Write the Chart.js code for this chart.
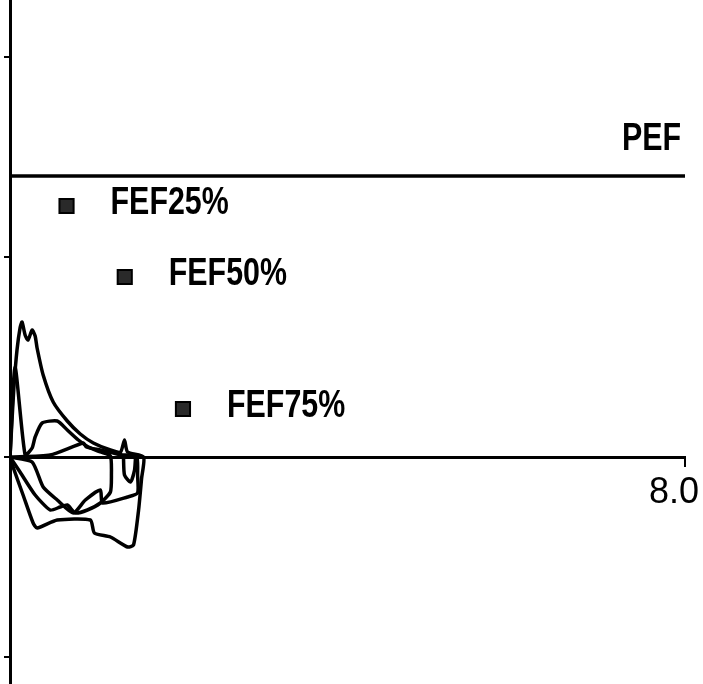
<!DOCTYPE html>
<html>
<head>
<meta charset="utf-8">
<script src="https://cdn.jsdelivr.net/npm/chart.js@4"></script>
<style>
  html, body { margin: 0; padding: 0; background: #ffffff; }
  canvas { display: block; }
</style>
</head>
<body>
<canvas id="c" width="703" height="684"></canvas>
<script>
// ---- data (volume in L on x, flow in L/s on y) ----
const volumeTickValues = [8.0];
const flowTickValues = [-2, 0, 2, 4];

const predictedLabels = ['FEF25%', 'FEF50%', 'FEF75%'];
const predictedVolume = [0.67, 1.36, 2.05];
const predictedFlow = [2.51, 1.80, 0.48];

const pefLabel = 'PEF';
const pefFlow = 2.81;
const pefVolume = [0, 8];

// trial 1 (largest loop): expiration then inspiration
const trial1Volume = [0, 0.024, 0.048, 0.083, 0.119, 0.143, 0.179, 0.214, 0.262, 0.298, 0.321, 0.393, 0.512, 0.679, 0.833, 0.988, 1.19, 1.31, 1.357, 1.393, 1.583,
  1.56, 1.524, 1.464, 1.393, 1.19, 1.0, 0.952, 0.56, 0.321, 0.274, 0.155, 0.036, 0];
const trial1Flow = [0, 0.37, 0.72, 1.07, 1.29, 1.35, 1.22, 1.17, 1.27, 1.21, 1.09, 0.82, 0.55, 0.36, 0.23, 0.14, 0.07, 0.05, 0.17, 0.05, 0,
  -0.21, -0.53, -0.88, -0.90, -0.80, -0.76, -0.63, -0.63, -0.71, -0.66, -0.38, -0.10, 0];

// trial 2
const trial2Volume = [0, 0.06, 0.179, 0.262, 0.298, 0.381, 0.56, 0.679, 0.81, 0.929, 1.071, 1.19,
  1.202, 1.19, 1.071, 0.917, 0.774, 0.679, 0.595, 0.476, 0.298, 0.119, 0];
const trial2Flow = [0, 0.9, 0.02, 0.09, 0.20, 0.34, 0.36, 0.27, 0.17, 0.10, 0.05, 0.01,
  -0.18, -0.35, -0.46, -0.53, -0.56, -0.48, -0.50, -0.53, -0.38, -0.15, 0];

// trial 3
const trial3Volume = [0, 0.476, 0.869, 0.905, 1.071, 1.333, 1.5,
  1.512, 1.512, 1.393, 1.095, 1.071, 0.893, 0.75, 0.56, 0.393, 0.262, 0];
const trial3Flow = [0, 0.02, 0.14, 0.10, 0.07, 0.02, 0.01,
  -0.18, -0.36, -0.40, -0.46, -0.33, -0.43, -0.56, -0.43, -0.30, -0.05, 0];

// trial 4 (small end lobe)
const trial4Volume = [1.345, 1.357, 1.429, 1.476, 1.488];
const trial4Flow = [0, -0.18, -0.25, -0.13, 0];

// ---- build ----
const pts = (xs, ys) => xs.map((x, i) => ({ x: x, y: ys[i] }));

const loopStyle = {
  type: 'scatter',
  showLine: true,
  borderColor: '#000000',
  borderWidth: 3.5,
  pointRadius: 0,
  tension: 0.2,
  fill: false
};

const textPlugin = {
  id: 'annotText',
  afterDatasetsDraw(chart) {
    const ctx = chart.ctx;
    const xs = chart.scales.x, ys = chart.scales.y;
    ctx.save();
    ctx.fillStyle = '#000000';
    ctx.font = 'bold 38px "Liberation Sans", Arial, sans-serif';
    ctx.textBaseline = 'middle';
    const draw = (txt, px, py, align) => {
      ctx.save();
      ctx.translate(px, py);
      ctx.scale(0.8, 1);
      ctx.textAlign = align;
      ctx.fillText(txt, 0, 0);
      ctx.restore();
    };
    predictedLabels.forEach((t, i) => {
      draw(t, xs.getPixelForValue(predictedVolume[i]) + 44, ys.getPixelForValue(predictedFlow[i]) - 2, 'left');
    });
    draw(pefLabel, xs.getPixelForValue(pefVolume[1]) - 4, ys.getPixelForValue(pefFlow) - 36, 'right');
    ctx.restore();
  }
};

new Chart(document.getElementById('c'), {
  type: 'scatter',
  data: {
    datasets: [
      Object.assign({ label: 'PEF', data: pts(pefVolume, [pefFlow, pefFlow]) }, loopStyle, { borderWidth: 3.5, tension: 0 }),
      Object.assign({ label: 'Trial 1', data: pts(trial1Volume, trial1Flow) }, loopStyle),
      Object.assign({ label: 'Trial 2', data: pts(trial2Volume, trial2Flow) }, loopStyle),
      Object.assign({ label: 'Trial 3', data: pts(trial3Volume, trial3Flow) }, loopStyle),
      Object.assign({ label: 'Trial 4', data: pts(trial4Volume, trial4Flow) }, loopStyle),
      {
        type: 'scatter',
        label: 'Predicted',
        data: pts(predictedVolume, predictedFlow),
        showLine: false,
        pointStyle: 'rect',
        pointRadius: 10,
        backgroundColor: '#2a2a2a',
        borderColor: '#000000',
        borderWidth: 2
      }
    ]
  },
  options: {
    responsive: false,
    animation: false,
    devicePixelRatio: 1,
    layout: { autoPadding: false, padding: { left: 4, top: 0, right: 18, bottom: 0 } },
    plugins: { legend: { display: false }, tooltip: { enabled: false } },
    scales: {
      x: {
        type: 'linear',
        min: 0,
        max: 8,
        position: { y: 0 },
        afterBuildTicks: (axis) => { axis.ticks = volumeTickValues.map(v => ({ value: v })); },
        afterFit: (axis) => { axis.paddingLeft = 0; axis.paddingRight = 0; },
        ticks: {
          color: '#000000',
          padding: 6,
          labelOffset: -11,
          font: { size: 36, family: '"Liberation Sans", Arial, sans-serif' },
          callback: (v) => Number(v).toFixed(1),
          maxRotation: 0
        },
        grid: { drawOnChartArea: false, drawTicks: true, tickLength: 8, color: '#000000', lineWidth: 2 },
        border: { display: true, color: '#000000', width: 3 }
      },
      y: {
        type: 'linear',
        min: -2.27,
        max: 4.57,
        afterBuildTicks: (axis) => { axis.ticks = flowTickValues.map(v => ({ value: v })); },
        ticks: { display: false },
        grid: { drawOnChartArea: false, drawTicks: true, tickLength: 6, color: '#000000', lineWidth: 2 },
        border: { display: true, color: '#000000', width: 3 }
      }
    }
  },
  plugins: [textPlugin]
});
</script>
</body>
</html>
